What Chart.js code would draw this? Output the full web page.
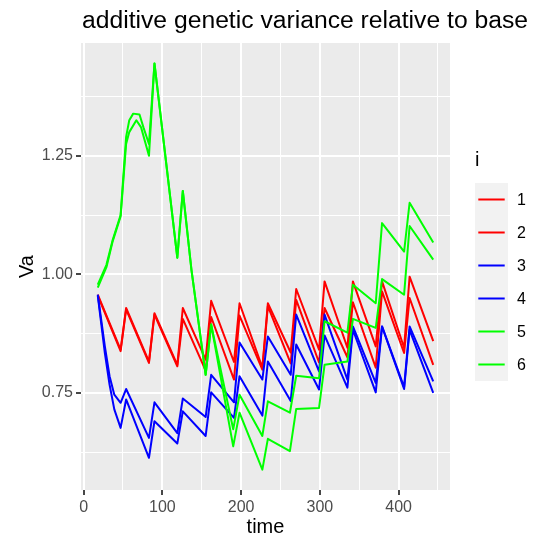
<!DOCTYPE html>
<html>
<head>
<meta charset="utf-8">
<script src="https://cdn.jsdelivr.net/npm/chart.js@4.4.1/dist/chart.umd.min.js"></script>
<style>
  html, body { margin: 0; padding: 0; background: #ffffff; }
  #wrap { width: 534px; height: 540px; position: relative; }
</style>
</head>
<body>
<div id="wrap"><canvas id="chart" width="534" height="540"></canvas></div>
<script>
// Additive genetic variance (relative to base) over time, six replicate runs.
const chartTitle = 'additive genetic variance relative to base';
const seriesNames = ['1', '2', '3', '4', '5', '6'];
const seriesColors = ['#FF0000', '#FF0000', '#0000FF', '#0000FF', '#00FF00', '#00FF00'];

// runs 1 and 2
const timesRed = [18, 47, 54, 83, 90, 119, 126, 155, 162, 191, 198, 227, 234, 263, 270, 299, 306, 335, 342, 371, 379, 407, 414, 444];
const va1 = [0.957, 0.841, 0.929, 0.816, 0.918, 0.809, 0.929, 0.820, 0.944, 0.815, 0.939, 0.803, 0.939, 0.835, 0.969, 0.841, 0.985, 0.845, 0.985, 0.848, 0.985, 0.845, 0.995, 0.859];
const va2 = [0.955, 0.838, 0.926, 0.813, 0.915, 0.806, 0.906, 0.797, 0.910, 0.778, 0.913, 0.799, 0.933, 0.812, 0.946, 0.814, 0.929, 0.825, 0.941, 0.803, 0.964, 0.834, 0.950, 0.809];

// runs 3 and 4
const timesBlue = [18, 27, 33, 39, 47, 54, 83, 90, 119, 126, 155, 162, 191, 198, 227, 234, 263, 270, 299, 306, 335, 342, 371, 379, 407, 414, 444];
const va3 = [0.957, 0.848, 0.785, 0.746, 0.729, 0.758, 0.655, 0.730, 0.665, 0.738, 0.699, 0.788, 0.730, 0.856, 0.778, 0.869, 0.788, 0.915, 0.795, 0.915, 0.778, 0.890, 0.771, 0.890, 0.762, 0.890, 0.774];
const va4 = [0.955, 0.834, 0.767, 0.715, 0.676, 0.736, 0.613, 0.690, 0.643, 0.711, 0.659, 0.751, 0.697, 0.785, 0.702, 0.816, 0.733, 0.852, 0.757, 0.871, 0.761, 0.883, 0.751, 0.890, 0.758, 0.883, 0.750];

// runs 5 and 6
const times5 = [18, 29, 37, 47, 54, 58, 63, 71, 76, 83, 90, 119, 126, 137, 155, 162, 190, 198, 227, 234, 262, 270, 299, 306, 335, 342, 371, 379, 407, 414, 444];
const va5 = [0.978, 1.020, 1.073, 1.125, 1.290, 1.325, 1.339, 1.337, 1.310, 1.275, 1.445, 1.035, 1.176, 1.009, 0.788, 0.894, 0.673, 0.746, 0.659, 0.732, 0.708, 0.786, 0.781, 0.901, 0.877, 0.978, 0.939, 1.108, 1.048, 1.151, 1.067];
const times6 = [18, 29, 37, 47, 54, 58, 67, 73, 83, 90, 119, 126, 137, 155, 162, 190, 198, 227, 234, 262, 270, 299, 306, 335, 342, 371, 379, 407, 414, 444];
const va6 = [0.972, 1.015, 1.070, 1.122, 1.275, 1.300, 1.325, 1.310, 1.250, 1.445, 1.035, 1.176, 1.009, 0.788, 0.894, 0.637, 0.708, 0.588, 0.653, 0.627, 0.716, 0.718, 0.809, 0.816, 0.906, 0.887, 0.990, 0.957, 1.102, 1.031];

// axis breaks
const xGridValues = [0, 50, 100, 150, 200, 250, 300, 350, 400, 450];
const xLabelValues = [0, 100, 200, 300, 400];
const yGridValues = [0.625, 0.75, 0.875, 1.0, 1.125, 1.25, 1.375];
const yLabelValues = [0.75, 1.0, 1.25];

const seriesTimes = [timesRed, timesRed, timesBlue, timesBlue, times5, times6];
const seriesValues = [va1, va2, va3, va4, va5, va6];

const FONT = '"Liberation Sans", Arial, Helvetica, sans-serif';

const datasets = seriesNames.map((name, i) => ({
  label: name,
  data: seriesTimes[i].map((t, k) => ({ x: t, y: seriesValues[i][k] })),
  borderColor: seriesColors[i],
  backgroundColor: seriesColors[i],
  borderWidth: 2,
  pointRadius: 0,
  tension: 0,
  fill: false,
  borderJoinStyle: 'round',
  order: seriesNames.length - i
}));

// grey panel behind the grid
const panelBackground = {
  id: 'panelBackground',
  beforeDraw(chart) {
    const { ctx, chartArea: a } = chart;
    ctx.save();
    ctx.fillStyle = '#EBEBEB';
    ctx.fillRect(a.left, a.top, a.right - a.left, a.bottom - a.top);
    ctx.restore();
  }
};

// plot title and the "i" legend on the right
const titleAndLegend = {
  id: 'titleAndLegend',
  afterDraw(chart) {
    const { ctx, chartArea: a } = chart;
    ctx.save();
    ctx.fillStyle = '#000000';
    ctx.textBaseline = 'alphabetic';
    ctx.textAlign = 'left';
    ctx.font = '24.7px ' + FONT;
    ctx.fillText(chartTitle, a.left + 1, 28);

    const keyX = 475, keySize = 33, keyTop = 183;
    ctx.font = '20px ' + FONT;
    ctx.fillText('i', keyX, 166);
    chart.data.datasets.forEach((ds, i) => {
      const y = keyTop + i * keySize;
      ctx.fillStyle = '#F2F2F2';
      ctx.fillRect(keyX, y, keySize, keySize);
      ctx.strokeStyle = ds.borderColor;
      ctx.lineWidth = 2;
      ctx.beginPath();
      ctx.moveTo(keyX + keySize * 0.1, y + keySize / 2);
      ctx.lineTo(keyX + keySize * 0.9, y + keySize / 2);
      ctx.stroke();
      ctx.fillStyle = '#000000';
      ctx.font = '16px ' + FONT;
      ctx.textBaseline = 'middle';
      ctx.fillText(ds.label, keyX + keySize + 9, y + keySize / 2 + 1);
    });
    ctx.restore();
  }
};

new Chart(document.getElementById('chart'), {
  type: 'line',
  data: { datasets },
  plugins: [panelBackground, titleAndLegend],
  options: {
    responsive: false,
    animation: false,
    devicePixelRatio: 1,
    layout: { padding: { left: 0, right: 84, top: 43, bottom: 0 } },
    plugins: {
      legend: { display: false },
      title: { display: false },
      tooltip: { enabled: false }
    },
    scales: {
      x: {
        type: 'linear',
        min: -3.3,
        max: 465.3,
        afterBuildTicks(scale) { scale.ticks = xGridValues.map(v => ({ value: v })); },
        afterFit(scale) { scale.height = 50; },
        border: { display: false },
        grid: {
          color: '#FFFFFF',
          lineWidth: c => (xLabelValues.includes(c.tick.value) ? 2 : 1),
          drawTicks: true,
          tickLength: 5,
          tickWidth: 1.8,
          tickColor: c => (xLabelValues.includes(c.tick.value) ? '#333333' : 'rgba(0,0,0,0)')
        },
        ticks: {
          autoSkip: false,
          maxRotation: 0,
          padding: 3,
          color: '#4D4D4D',
          font: { family: FONT, size: 16 },
          callback: v => (xLabelValues.includes(v) ? String(v) : '')
        },
        title: {
          display: true,
          text: 'time',
          color: '#000000',
          font: { family: FONT, size: 20 },
          padding: { top: 0, bottom: 1 }
        }
      },
      y: {
        type: 'linear',
        min: 0.545,
        max: 1.488,
        afterBuildTicks(scale) { scale.ticks = yGridValues.map(v => ({ value: v })); },
        afterFit(scale) { scale.width = 81; },
        border: { display: false },
        grid: {
          color: '#FFFFFF',
          lineWidth: c => (yLabelValues.includes(c.tick.value) ? 2 : 1),
          drawTicks: true,
          tickLength: 5,
          tickWidth: 1.8,
          tickColor: c => (yLabelValues.includes(c.tick.value) ? '#333333' : 'rgba(0,0,0,0)')
        },
        ticks: {
          autoSkip: false,
          padding: 3,
          color: '#4D4D4D',
          font: { family: FONT, size: 16 },
          callback: v => (yLabelValues.includes(v) ? v.toFixed(2) : '')
        },
        title: {
          display: true,
          text: 'Va',
          color: '#000000',
          font: { family: FONT, size: 20 },
          padding: { top: 15, bottom: 0 }
        }
      }
    }
  }
});
</script>
</body>
</html>
